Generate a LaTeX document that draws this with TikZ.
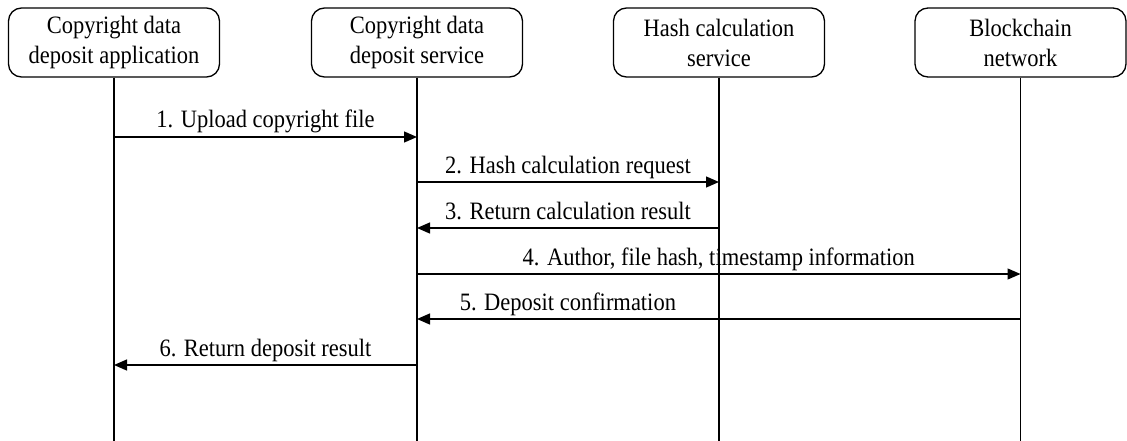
\documentclass[tikz,border=0pt]{standalone}
\usepackage{fontspec}
\setmainfont[FakeStretch=0.9]{Liberation Serif}
\usetikzlibrary{arrows.meta}
\begin{document}
\begin{tikzpicture}[x=1pt,y=-1pt, font=\fontsize{25}{30}\selectfont,
  actor/.style={draw, rounded corners=13pt, line width=1.3pt, minimum width=211pt, minimum height=69pt, align=center, inner sep=0pt},
  life/.style={line width=1.2pt},
  msg/.style={line width=1.3pt, -{Triangle[length=13pt,width=11pt]}},
  lbl/.style={anchor=base, inner sep=0pt, yshift=9pt}]
\useasboundingbox (0,0) rectangle (1127,441);
\node[actor] (a) at (114,42.5) {Copyright data\\deposit application};
\node[actor] (b) at (417,42.5) {Copyright data\\deposit service};
\node[actor] (c) at (719,42.5) {Hash calculation\\service};
\node[actor] (d) at (1020.5,42.5) {Blockchain\\network};
\coordinate (ae) at (114,441);
\coordinate (be) at (417,441);
\coordinate (ce) at (719,441);
\coordinate (de) at (1020.5,441);
\draw[life] (a.south) -- (ae);
\draw[life] (b.south) -- (be);
\draw[life] (c.south) -- (ce);
\draw[life] (d.south) -- (de);
% message points
\coordinate (a1) at (114,137); \coordinate (b1) at (417,137);
\coordinate (b2) at (417,182); \coordinate (c2) at (719,182);
\coordinate (c3) at (719,228); \coordinate (b3) at (417,228);
\coordinate (b4) at (417,274); \coordinate (d4) at (1020.5,274);
\coordinate (d5) at (1020.5,319); \coordinate (b5) at (417,319);
\coordinate (b6) at (417,365); \coordinate (a6) at (114,365);
\draw[msg] (a1) -- (b1) node[lbl, midway] (m1) {1. Upload copyright file};
\draw[msg] (b2) -- (c2) node[lbl, midway] (m2) {2. Hash calculation request};
\draw[msg] (c3) -- (b3) node[lbl, midway] (m3) {3. Return calculation result};
\draw[msg] (b4) -- (d4) node[lbl, midway] (m4) {4. Author, file hash, timestamp information};
\draw[msg] (d5) -- (b5) node[lbl, pos=0.75] (m5) {5. Deposit confirmation};
\draw[msg] (b6) -- (a6) node[lbl, midway] (m6) {6. Return deposit result};
\end{tikzpicture}
\end{document}
